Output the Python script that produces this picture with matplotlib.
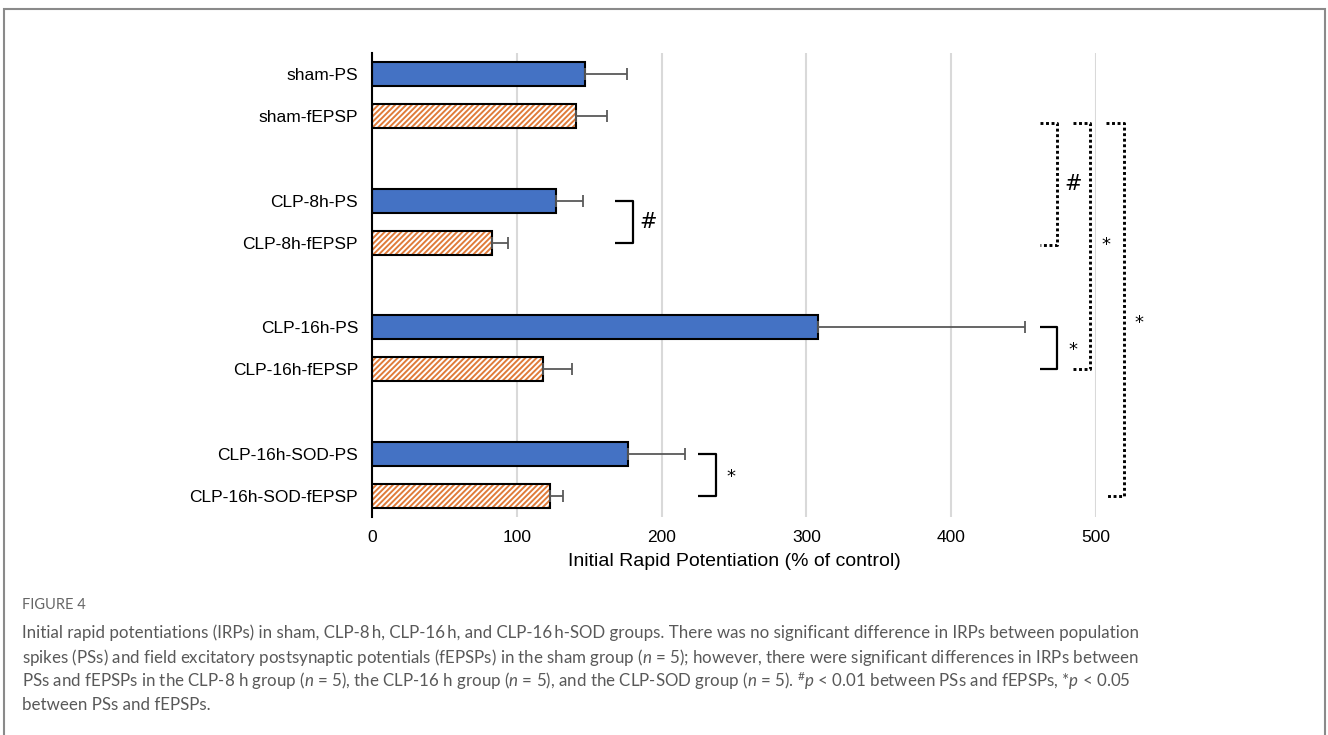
import matplotlib
matplotlib.use("Agg")
import matplotlib.pyplot as plt
from matplotlib.patches import Rectangle

# ---- data ----
categories = ["sham-PS", "sham-fEPSP", "CLP-8h-PS", "CLP-8h-fEPSP",
              "CLP-16h-PS", "CLP-16h-fEPSP", "CLP-16h-SOD-PS", "CLP-16h-SOD-fEPSP"]
values = [147, 141, 127, 83, 308, 118, 177, 123]
errors = [29, 21, 19, 11, 143, 20, 39, 9]
is_ps = [True, False, True, False, True, False, True, False]
positions = [0, 1, 3, 4, 6, 7, 9, 10]
xticks = [0, 100, 200, 300, 400, 500]
xlabel = "Initial Rapid Potentiation (% of control)"

# significance brackets: (x_start, x_end, y_top, y_bottom, label, label_x, label_y, style)
brackets = [
    (168, 180, 3, 4, "#", 191, 3.5, "solid"),
    (461, 473, 6, 7, "*", 484, 6.55, "solid"),
    (225, 237.5, 9, 10, "*", 248, 9.55, "solid"),
    (461, 473, 1.15, 4.05, "#", 484, 2.6, "dotted"),
    (484, 496, 1.15, 7.0, "*", 507, 4.05, "dotted"),
    (507, 519, 1.15, 10.0, "*", 530, 5.9, "dotted"),
]

caption_title = "FIGURE 4"
caption_lines = [
    "Initial rapid potentiations (IRPs) in sham, CLP-8\u2009h, CLP-16\u2009h, and CLP-16\u2009h-SOD groups. There was no significant difference in IRPs between population",
    r"spikes (PSs) and field excitatory postsynaptic potentials (fEPSPs) in the sham group ($n$ = 5); however, there were significant differences in IRPs between",
    r"PSs and fEPSPs in the CLP-8 h group ($n$ = 5), the CLP-16 h group ($n$ = 5), and the CLP-SOD group ($n$ = 5). $^{\#}$$p$ < 0.01 between PSs and fEPSPs, *$p$ < 0.05",
    "between PSs and fEPSPs.",
]

BLUE = "#4472C4"
ORANGE = "#E07B39"

plt.rcParams["font.family"] = ["Liberation Sans", "DejaVu Sans"]
plt.rcParams["hatch.linewidth"] = 1.4
plt.rcParams["mathtext.fontset"] = "custom"
plt.rcParams["mathtext.rm"] = "Lato"
plt.rcParams["mathtext.it"] = "Lato:italic"

fig = plt.figure(figsize=(13.28, 7.35), dpi=100)
ax = fig.add_axes([372 / 1328, 1 - 517 / 735, (1096 - 372) / 1328, (517 - 53) / 735])

bar_h = 0.57
for pos, v, e, ps in zip(positions, values, errors, is_ps):
    if ps:
        ax.barh(pos, v, height=bar_h, color=BLUE, edgecolor="black", linewidth=1.5, zorder=3)
    else:
        ax.barh(pos, v, height=bar_h, color="white", edgecolor=ORANGE, hatch="//////",
                linewidth=0, zorder=3)
        ax.barh(pos, v, height=bar_h, fill=False, edgecolor="black", linewidth=1.5, zorder=4)
    ax.errorbar(v, pos, xerr=[[0], [e]], fmt="none", ecolor="#595959", elinewidth=1.3,
                capsize=4, capthick=1.3, zorder=5)

ax.set_xlim(0, 500)
ax.set_ylim(10.5, -0.5)
ax.set_yticks(positions)
ax.set_yticklabels(categories, fontsize=12.5)
ax.set_xticks(xticks)
ax.set_xticklabels([str(t) for t in xticks], fontsize=12.5)
ax.tick_params(axis="y", length=0, pad=10)
ax.tick_params(axis="x", length=0, pad=9)
ax.set_xlabel(xlabel, fontsize=14, labelpad=6)
ax.xaxis.grid(True, color="#d9d9d9", linewidth=1.5, zorder=0)
ax.set_axisbelow(True)
for s in ["top", "right", "bottom"]:
    ax.spines[s].set_visible(False)
ax.spines["left"].set_linewidth(1.5)
ax.spines["left"].set_zorder(6)

for x0, x1, yt, yb, lab, lx, ly, style in brackets:
    if style == "solid":
        ls, lw = "-", 1.6
    else:
        ls, lw = (0, (1.0, 0.9)), 2.1
    ax.plot([x0, x1, x1, x0], [yt, yt, yb, yb], color="black", linestyle=ls,
            linewidth=lw, clip_on=False, zorder=5, solid_capstyle="butt",
            dash_capstyle="butt")
    fs = 15 if lab == "#" else 13
    ax.text(lx, ly, lab, ha="center", va="center", fontsize=fs, clip_on=False,
            family=["DejaVu Sans"])

# frame border
fig.add_artist(Rectangle((4 / 1328, -0.05), (1325 - 4) / 1328, 1.05 - 9 / 735,
                         transform=fig.transFigure, fill=False, edgecolor="#8a8a8a",
                         linewidth=1.5))

# caption
fig.text(22 / 1328, 1 - 605 / 735, caption_title, fontsize=10.5, color="#666666",
         family=["Lato", "DejaVu Sans"], va="center")
for i, line in enumerate(caption_lines):
    fig.text(22 / 1328, 1 - (633 + 24 * i) / 735, line, fontsize=12.2, color="#595959",
             family=["Lato", "DejaVu Sans"], va="center")

fig.savefig("out.png", dpi=100)
